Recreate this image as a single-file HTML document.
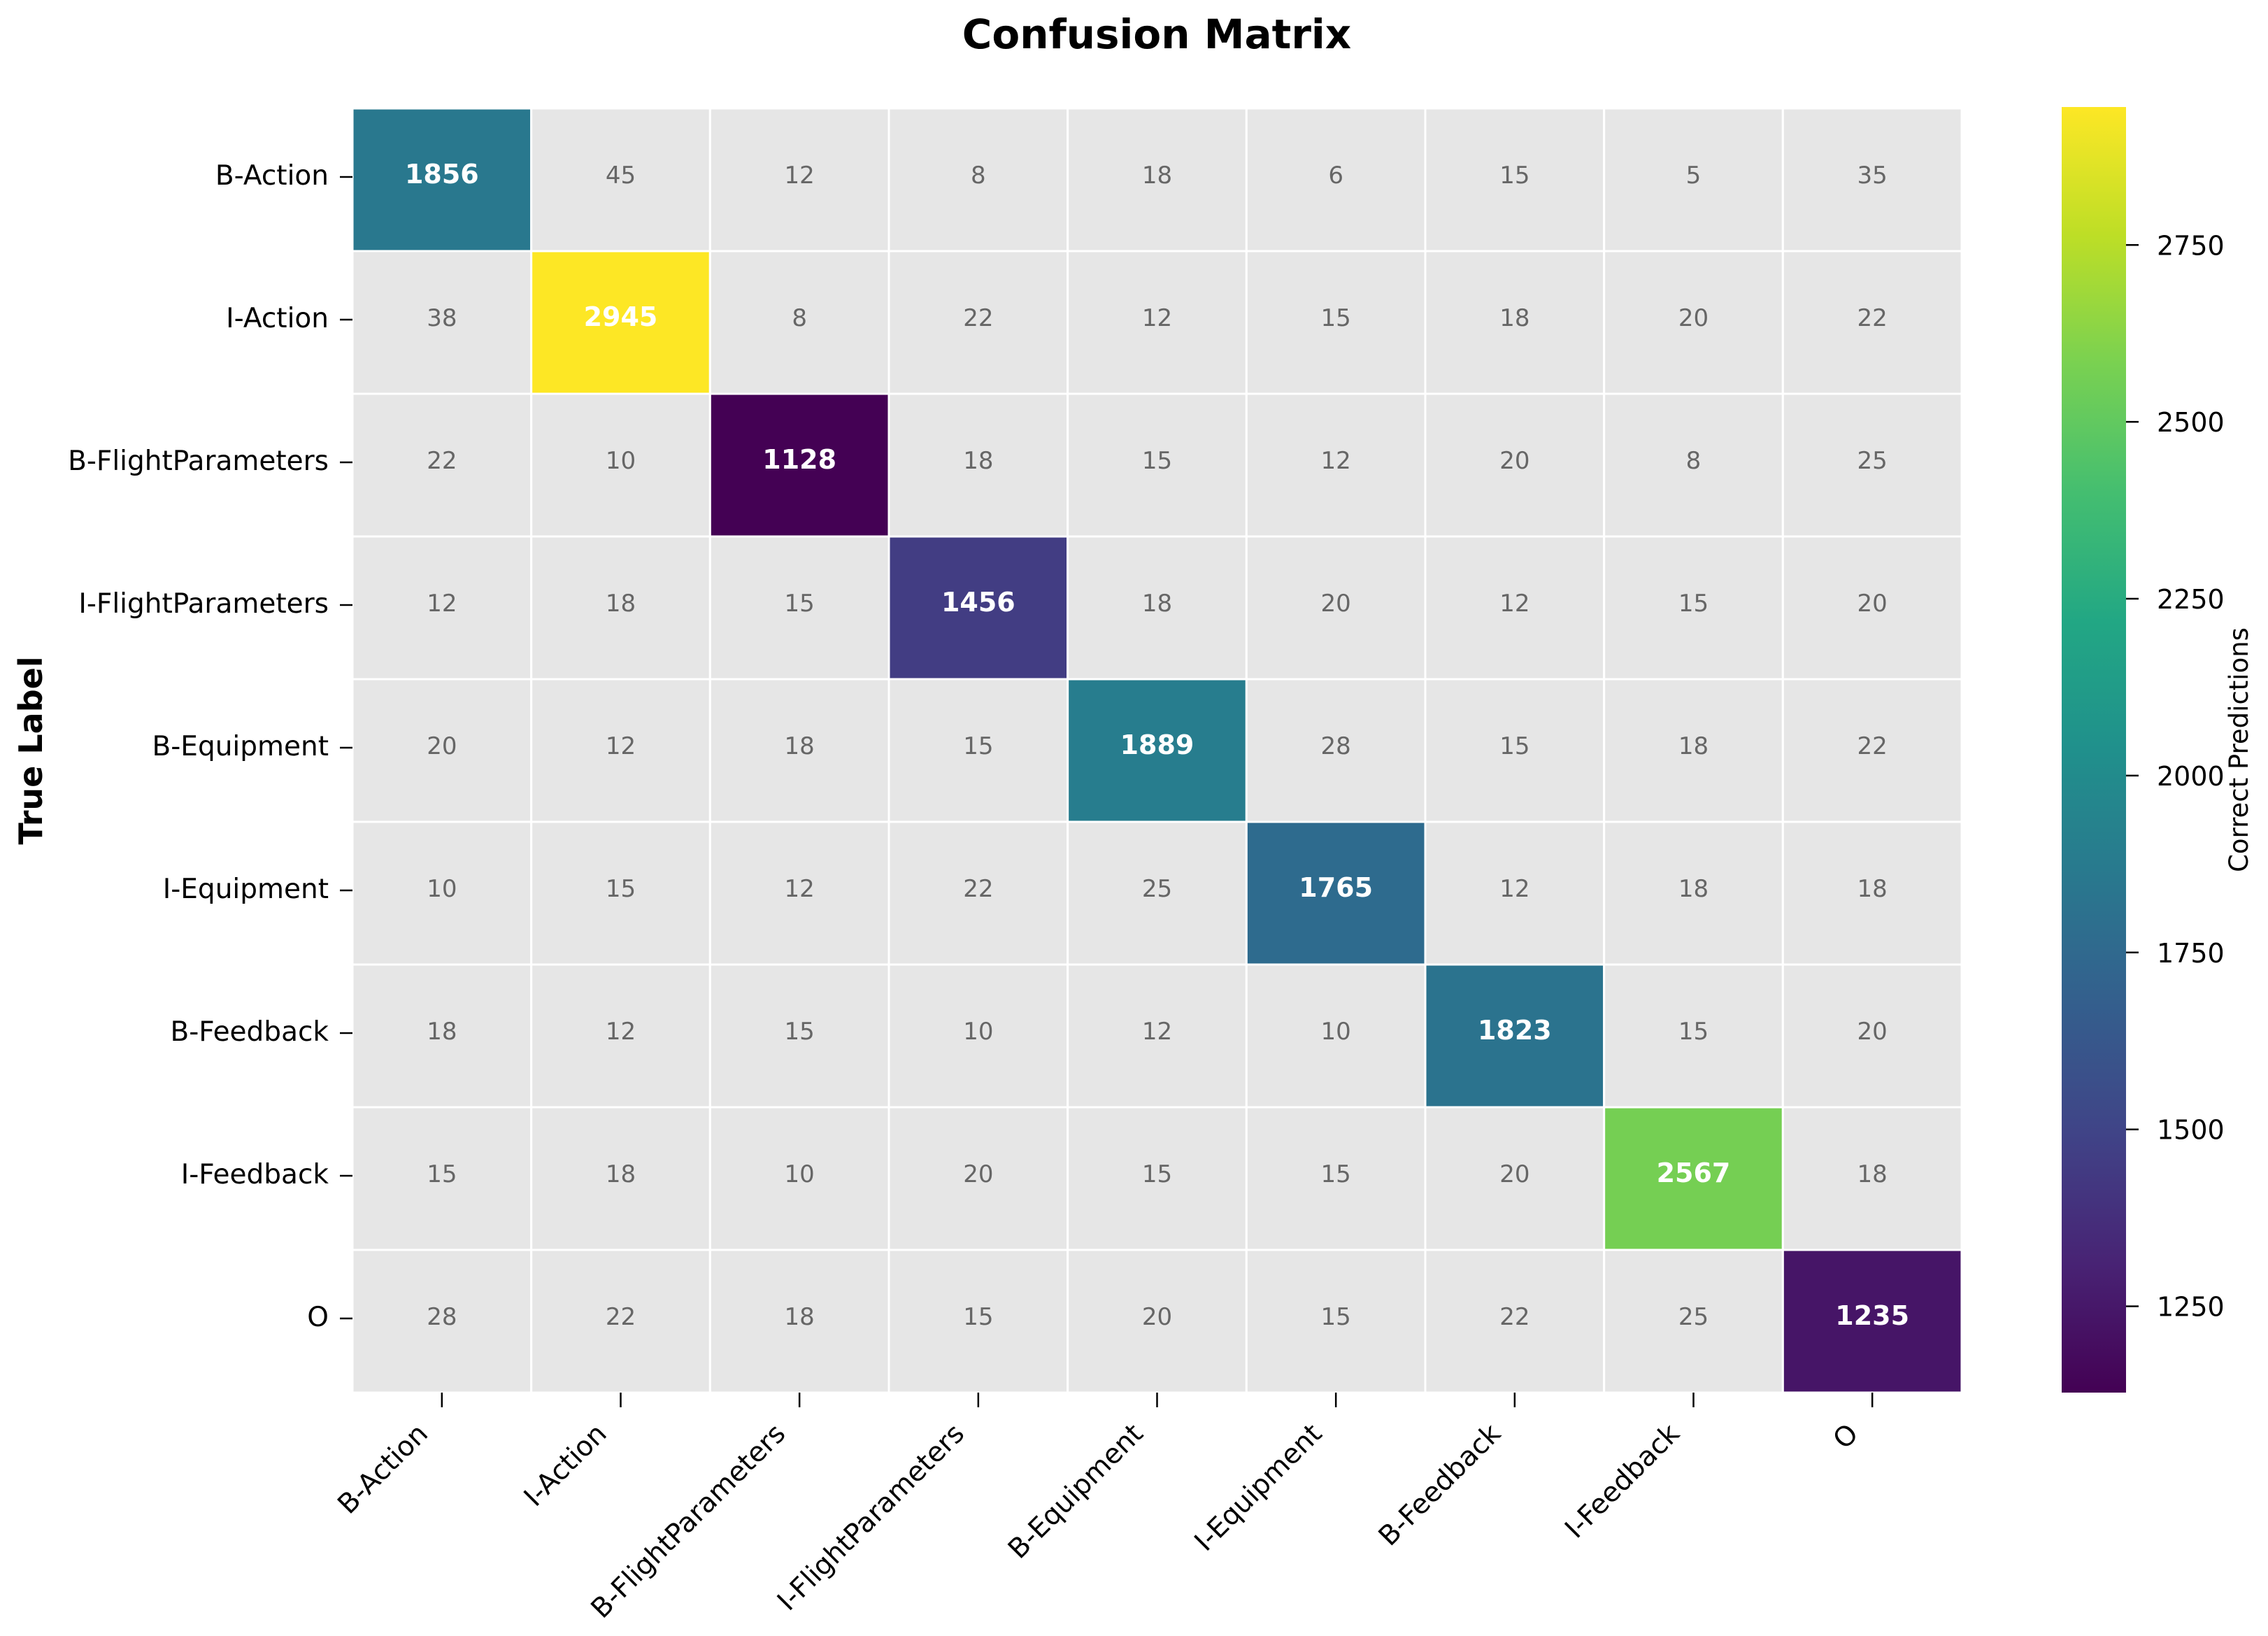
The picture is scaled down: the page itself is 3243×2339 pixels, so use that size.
<!DOCTYPE html>
<html><head><meta charset="utf-8"><style>
html,body{margin:0;padding:0;background:#fff;}
svg{display:block;font-family:"DejaVu Sans","Liberation Sans",sans-serif;}
</style></head><body>
<svg id="chart" width="3243" height="2339" viewBox="0 0 3243 2339" xmlns="http://www.w3.org/2000/svg">
<defs><linearGradient id="cbgrad" x1="0" y1="1" x2="0" y2="0"></linearGradient></defs>
<rect width="3243" height="2339" fill="#fff"/>
<text x="1654" y="69" text-anchor="middle" font-size="58" font-weight="bold" fill="#000">Confusion Matrix</text>
<text transform="translate(60,1073) rotate(-90)" text-anchor="middle" font-size="46" font-weight="bold" fill="#000">True Label</text>
<g id="cells"></g>
<g id="yticks"></g>
<g id="xticks"></g>
<g id="cbar"></g>
<text transform="translate(3214,1072) rotate(-90)" text-anchor="middle" font-size="37" fill="#000">Correct Predictions</text>
</svg>
<script>
const labels = ["B-Action","I-Action","B-FlightParameters","I-FlightParameters","B-Equipment","I-Equipment","B-Feedback","I-Feedback","O"];
const row0 = [1856,45,12,8,18,6,15,5,35];
const row1 = [38,2945,8,22,12,15,18,20,22];
const row2 = [22,10,1128,18,15,12,20,8,25];
const row3 = [12,18,15,1456,18,20,12,15,20];
const row4 = [20,12,18,15,1889,28,15,18,22];
const row5 = [10,15,12,22,25,1765,12,18,18];
const row6 = [18,12,15,10,12,10,1823,15,20];
const row7 = [15,18,10,20,15,15,20,2567,18];
const row8 = [28,22,18,15,20,15,22,25,1235];
const matrix = [row0,row1,row2,row3,row4,row5,row6,row7,row8];
const cbTicks = [1250,1500,1750,2000,2250,2500,2750];

const NS = "http://www.w3.org/2000/svg";
const L = 504, R = 2805, T = 155, B = 1991;
const n = labels.length;
const cw = (R - L) / n, ch = (B - T) / n;
const diag = matrix.map((r, i) => r[i]);
const vmin = Math.min(...diag), vmax = Math.max(...diag);
const xPos = j => L + j * cw;
const yPos = i => T + i * ch;
const CB_L = 2948, CB_R = 3040, CB_T = 153, CB_B = 1991;
const cbY = v => CB_B - (v - vmin) / (vmax - vmin) * (CB_B - CB_T);

const VIR = [[68,1,84],[72,35,116],[64,67,135],[52,94,141],[41,120,142],[32,144,140],[34,167,132],[68,190,112],[121,209,81],[189,222,38],[253,231,37]];
function viridis(t){
  t = Math.max(0, Math.min(1, t));
  const p = t * (VIR.length - 1), i = Math.min(Math.floor(p), VIR.length - 2), f = p - i;
  const c = VIR[i].map((a, k) => Math.round(a + (VIR[i+1][k] - a) * f));
  return `rgb(${c[0]},${c[1]},${c[2]})`;
}
function mk(tag, attrs, parent){
  const e = document.createElementNS(NS, tag);
  for (const k in attrs) e.setAttribute(k, attrs[k]);
  parent.appendChild(e);
  return e;
}

const cells = document.getElementById('cells');
matrix.forEach((row, i) => {
  row.forEach((v, j) => {
    const isD = i === j;
    const fill = isD ? viridis((v - vmin) / (vmax - vmin)) : '#e6e6e6';
    const r = mk('rect', {x: xPos(j), y: yPos(i), width: cw, height: ch, fill: fill, stroke: '#fff', 'stroke-width': 3}, cells);
    
    
    const t = mk('text', {x: xPos(j) + cw / 2, y: yPos(i) + ch / 2 + 5, 'text-anchor': 'middle',
      'font-size': isD ? 38 : 34, 'font-weight': isD ? 'bold' : 'normal', fill: isD ? '#fff' : '#666'}, cells);
    t.textContent = v;
    
    
  });
});

const yt = document.getElementById('yticks');
labels.forEach((lab, i) => {
  const cy = yPos(i) + ch / 2;
  mk('line', {x1: 486, x2: 504, y1: cy - 4, y2: cy - 4, stroke: '#000', 'stroke-width': 2.5}, yt);
  const t = mk('text', {x: 470, y: cy + 7, 'text-anchor': 'end', 'font-size': 39, fill: '#000'}, yt);
  t.textContent = lab;
  
  
});
const xt = document.getElementById('xticks');
labels.forEach((lab, j) => {
  const cx = xPos(j) + cw / 2;
  mk('line', {x1: cx, x2: cx, y1: B, y2: B + 21, stroke: '#000', 'stroke-width': 2.5}, xt);
  const ax = cx - 18, ay = 2052;
  const t = mk('text', {x: ax, y: ay, 'text-anchor': 'end', 'font-size': 39, fill: '#000', transform: `rotate(-45 ${ax} ${ay})`}, xt);
  t.textContent = lab;
  
  
});

const grad = document.getElementById('cbgrad');
for (let k = 0; k <= 20; k++) {
  mk('stop', {offset: (k / 20), 'stop-color': viridis(k / 20)}, grad);
}
const cb = document.getElementById('cbar');
const cbr = mk('rect', {x: CB_L, y: CB_T, width: CB_R - CB_L, height: CB_B - CB_T, fill: 'url(#cbgrad)'}, cb);


cbTicks.forEach(v => {
  const y = cbY(v);
  mk('line', {x1: CB_R, x2: CB_R + 18, y1: y, y2: y, stroke: '#000', 'stroke-width': 2.5}, cb);
  const t = mk('text', {x: CB_R + 44, y: y + 14, 'font-size': 38, fill: '#000'}, cb);
  t.textContent = v;
  
  
});
</script>
</body></html>
